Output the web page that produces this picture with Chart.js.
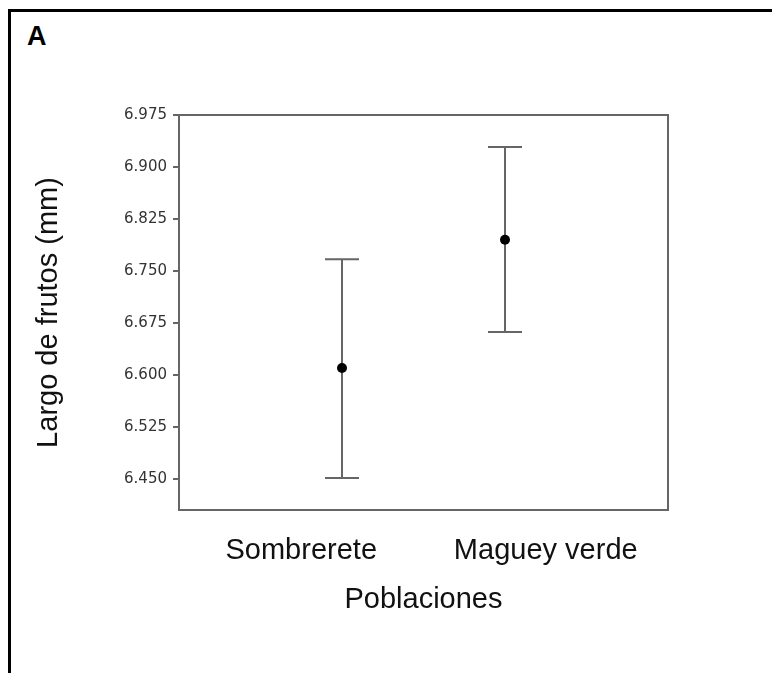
<!DOCTYPE html>
<html>
<head>
<meta charset="utf-8">
<script src="https://cdn.jsdelivr.net/npm/chart.js@4.4.0/dist/chart.umd.min.js"></script>
<style>
  html, body { margin: 0; padding: 0; background: #fff; }
  #wrap { position: relative; width: 772px; height: 673px; overflow: hidden; }
  #frame {
    position: absolute; left: 8px; top: 9px; width: 780px; height: 700px;
    border-left: 3px solid #000; border-top: 3px solid #000;
  }
  #panel {
    position: absolute; left: 27px; top: 21px;
    font: bold 27px "Liberation Sans", Arial, sans-serif; color: #000;
  }
  canvas { position: absolute; left: 0; top: 0; }
</style>
</head>
<body>
<div id="wrap">
  <div id="frame"></div>
  <div id="panel">A</div>
  <canvas id="chart" width="772" height="673"></canvas>
</div>
<script>
// data
const populations = ['Sombrerete', 'Maguey verde'];
const means = [6.610, 6.795];
const lower = [6.451, 6.662];
const upper = [6.767, 6.929];
const yTicks = [6.450, 6.525, 6.600, 6.675, 6.750, 6.825, 6.900, 6.975];

const errorBars = {
  id: 'errorBars',
  beforeDatasetsDraw(chart) {
    const ctx = chart.ctx;
    const xs = chart.scales.xp;
    const ys = chart.scales.y;
    ctx.save();
    ctx.strokeStyle = '#666';
    ctx.lineWidth = 2;
    populations.forEach((p, i) => {
      const x = xs.getPixelForValue(i + 1);
      const yl = ys.getPixelForValue(lower[i]);
      const yh = ys.getPixelForValue(upper[i]);
      ctx.beginPath();
      ctx.moveTo(x, yl); ctx.lineTo(x, yh);
      ctx.moveTo(x - 17, yl); ctx.lineTo(x + 17, yl);
      ctx.moveTo(x - 17, yh); ctx.lineTo(x + 17, yh);
      ctx.stroke();
    });
    ctx.restore();
  }
};

const plotBox = {
  id: 'plotBox',
  afterDraw(chart) {
    const a = chart.chartArea;
    const ctx = chart.ctx;
    ctx.save();
    ctx.strokeStyle = '#666';
    ctx.lineWidth = 2;
    ctx.strokeRect(a.left, a.top, a.right - a.left, a.bottom - a.top);
    ctx.restore();
  }
};

new Chart(document.getElementById('chart').getContext('2d'), {
  type: 'scatter',
  data: {
    labels: populations,
    datasets: [{
      data: means.map((m, i) => ({ x: i + 1, y: m })),
      xAxisID: 'xp',
      yAxisID: 'y',
      pointRadius: 5,
      pointBackgroundColor: '#000',
      pointBorderColor: '#000',
      pointBorderWidth: 0
    }]
  },
  options: {
    responsive: false,
    animation: false,
    layout: { padding: { left: 32, top: 115, right: 104, bottom: 52 } },
    scales: {
      xp: { type: 'linear', display: false, min: 0, max: 3 },
      x: {
        type: 'category',
        labels: populations,
        offset: true,
        position: 'bottom',
        border: { display: false },
        grid: { display: false },
        ticks: {
          color: '#111',
          padding: 16,
          font: { family: '"Liberation Sans", Arial, sans-serif', size: 29 }
        },
        title: {
          display: true,
          text: 'Poblaciones',
          color: '#111',
          padding: { top: 2 },
          font: { family: '"Liberation Sans", Arial, sans-serif', size: 29 }
        },
        afterFit(scale) { scale.height = 111; }
      },
      y: {
        type: 'linear',
        min: 6.405,
        max: 6.975,
        border: { display: false },
        grid: { drawOnChartArea: false, drawTicks: true, tickLength: 6, color: '#666', lineWidth: 2 },
        afterBuildTicks(scale) { scale.ticks = yTicks.map(v => ({ value: v })); },
        ticks: {
          color: '#333',
          padding: 6,
          font: { family: '"DejaVu Sans", sans-serif', size: 15 },
          callback: v => Number(v).toFixed(3)
        },
        title: {
          display: true,
          text: 'Largo de frutos (mm)',
          color: '#111',
          padding: 0,
          font: { family: '"Liberation Sans", Arial, sans-serif', size: 29 }
        },
        afterFit(scale) { scale.width = 147; }
      }
    },
    plugins: {
      legend: { display: false },
      tooltip: { enabled: false }
    }
  },
  plugins: [errorBars, plotBox]
});
</script>
</body>
</html>
